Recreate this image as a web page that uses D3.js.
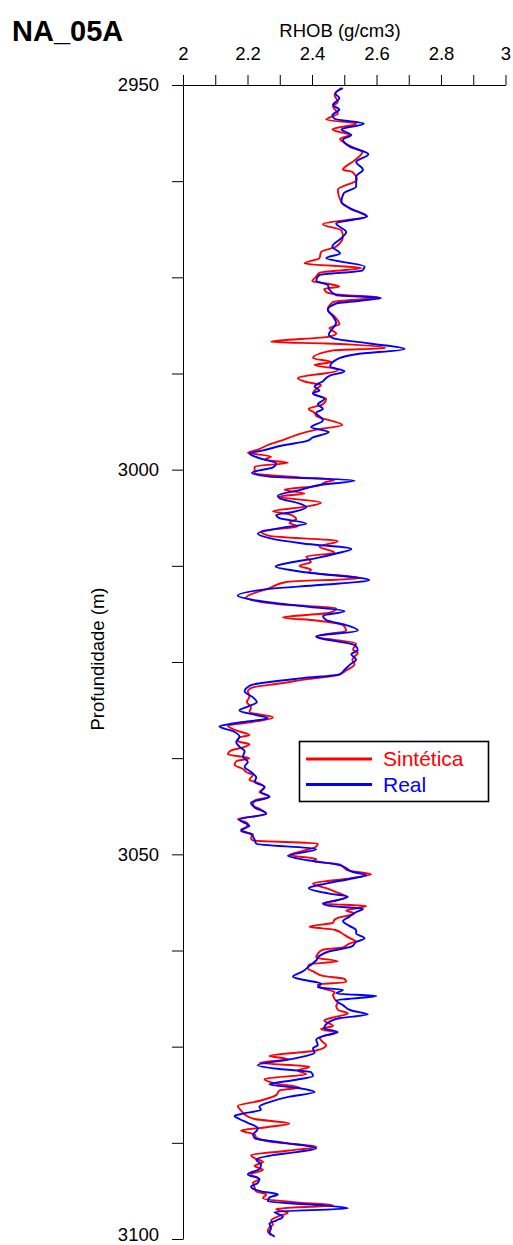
<!DOCTYPE html>
<html>
<head>
<meta charset="utf-8">
<script src="https://cdn.jsdelivr.net/npm/d3@7"></script>
<style>
  body { margin: 0; background: #fff; }
  svg { display: block; font-family: "Liberation Sans", Arial, sans-serif; }
</style>
</head>
<body>
<svg id="chart" width="513" height="1245"></svg>
<script>
// well and axis labels
const wellName = "NA_05A";
const xTitle = "RHOB (g/cm3)";
const yTitle = "Profundidade (m)";
const seriesNames = ["Sintética", "Real"];

const rhobTicks = [2, 2.1, 2.2, 2.3, 2.4, 2.5, 2.6, 2.7, 2.8, 2.9, 3];
const depthTicks = [2950, 2962.5, 2975, 2987.5, 3000, 3012.5, 3025, 3037.5, 3050, 3062.5, 3075, 3087.5, 3100];

// [depth (m), rhob (g/cm3)]
const sintetica = [
  [2950.4, 2.491], [2951.3, 2.470], [2952.2, 2.480], [2952.8, 2.465], [2953.7, 2.480],
  [2954.5, 2.444], [2955.0, 2.537], [2955.8, 2.463], [2956.5, 2.516], [2957.0, 2.487],
  [2958.0, 2.522], [2958.7, 2.556], [2959.8, 2.532], [2961.0, 2.496], [2961.3, 2.525],
  [2962.3, 2.539], [2963.6, 2.480], [2965.2, 2.491], [2966.2, 2.525], [2967.1, 2.568],
  [2968.1, 2.434], [2968.9, 2.491], [2969.7, 2.496], [2971.0, 2.475], [2971.7, 2.428],
  [2972.5, 2.423], [2973.2, 2.377], [2973.8, 2.553], [2974.4, 2.423], [2974.9, 2.413],
  [2975.5, 2.401], [2975.8, 2.444], [2976.2, 2.485], [2976.5, 2.438], [2976.9, 2.444],
  [2977.3, 2.496], [2977.6, 2.609], [2978.2, 2.465], [2979.2, 2.449], [2980.1, 2.470],
  [2981.1, 2.485], [2981.6, 2.454], [2982.3, 2.475], [2982.7, 2.454], [2983.4, 2.273],
  [2983.6, 2.444], [2984.2, 2.628], [2984.5, 2.465], [2985.5, 2.403], [2986.0, 2.460],
  [2986.4, 2.408], [2986.9, 2.475], [2987.1, 2.480], [2988.1, 2.356], [2988.6, 2.382],
  [2989.0, 2.428], [2989.5, 2.413], [2990.1, 2.403], [2990.8, 2.444], [2991.5, 2.434],
  [2992.1, 2.390], [2992.6, 2.408], [2993.0, 2.413], [2994.2, 2.494], [2994.8, 2.413],
  [2995.5, 2.351], [2996.3, 2.299], [2996.7, 2.268], [2997.4, 2.232], [2997.8, 2.201],
  [2998.3, 2.273], [2998.7, 2.253], [2999.1, 2.325], [2999.6, 2.222], [3000.4, 2.222],
  [3001.0, 2.361], [3001.3, 2.470], [3001.6, 2.444], [3002.1, 2.418], [3002.6, 2.315],
  [3003.1, 2.377], [3003.5, 2.299], [3004.3, 2.428], [3004.8, 2.382], [3005.4, 2.279],
  [3005.8, 2.330], [3006.4, 2.351], [3006.9, 2.330], [3007.4, 2.356], [3008.0, 2.242],
  [3008.6, 2.268], [3009.3, 2.480], [3010.0, 2.423], [3010.8, 2.470], [3011.3, 2.382],
  [3012.0, 2.397], [3012.5, 2.361], [3013.0, 2.397], [3013.3, 2.392], [3014.1, 2.547],
  [3014.6, 2.320], [3015.4, 2.268], [3016.6, 2.196], [3017.5, 2.299], [3018.0, 2.475],
  [3018.6, 2.454], [3019.2, 2.310], [3019.6, 2.413], [3020.2, 2.496], [3020.9, 2.506],
  [3021.7, 2.413], [3022.6, 2.537], [3023.4, 2.527], [3023.8, 2.542], [3024.3, 2.532],
  [3024.7, 2.525], [3025.3, 2.532], [3026.1, 2.506], [3026.7, 2.480], [3027.2, 2.392],
  [3027.8, 2.299], [3028.3, 2.217], [3028.8, 2.201], [3029.5, 2.206], [3030.2, 2.198],
  [3030.9, 2.211], [3031.5, 2.206], [3032.2, 2.279], [3032.9, 2.196], [3033.3, 2.139],
  [3033.9, 2.165], [3034.5, 2.206], [3034.8, 2.175], [3035.3, 2.170], [3035.7, 2.206],
  [3036.1, 2.186], [3036.5, 2.149], [3037.0, 2.139], [3037.5, 2.206], [3037.9, 2.165],
  [3038.4, 2.160], [3038.9, 2.186], [3039.3, 2.196], [3039.7, 2.217], [3040.3, 2.206],
  [3040.7, 2.232], [3041.3, 2.253], [3041.9, 2.237], [3042.5, 2.268], [3043.0, 2.222],
  [3043.6, 2.217], [3044.2, 2.242], [3044.8, 2.258], [3045.4, 2.170], [3046.0, 2.201],
  [3046.5, 2.196], [3047.0, 2.180], [3047.4, 2.217], [3047.9, 2.211], [3048.2, 2.217],
  [3048.6, 2.418], [3049.0, 2.413], [3049.5, 2.377], [3050.1, 2.330], [3050.6, 2.413],
  [3050.9, 2.403], [3051.3, 2.485], [3051.6, 2.496], [3052.1, 2.511], [3052.6, 2.583],
  [3053.1, 2.522], [3053.8, 2.403], [3054.4, 2.444], [3054.9, 2.475], [3055.5, 2.506],
  [3056.0, 2.475], [3056.4, 2.434], [3056.7, 2.568], [3057.3, 2.506], [3057.7, 2.532],
  [3058.2, 2.485], [3058.5, 2.470], [3058.9, 2.465], [3059.4, 2.392], [3059.8, 2.470],
  [3060.5, 2.501], [3061.0, 2.522], [3061.3, 2.537], [3061.6, 2.516], [3062.1, 2.496],
  [3062.4, 2.434], [3062.9, 2.418], [3063.4, 2.413], [3063.9, 2.480], [3064.3, 2.392],
  [3064.8, 2.387], [3065.3, 2.408], [3065.8, 2.434], [3066.2, 2.501], [3066.6, 2.506],
  [3066.9, 2.418], [3067.5, 2.438], [3067.9, 2.470], [3068.3, 2.465], [3068.8, 2.470],
  [3069.3, 2.480], [3069.7, 2.475], [3070.2, 2.480], [3070.7, 2.511], [3071.1, 2.475],
  [3071.6, 2.438], [3072.3, 2.465], [3072.7, 2.428], [3073.2, 2.475], [3073.8, 2.423],
  [3074.4, 2.434], [3074.8, 2.444], [3075.5, 2.413], [3076.2, 2.268], [3076.6, 2.325],
  [3077.1, 2.237], [3077.6, 2.392], [3078.1, 2.356], [3078.6, 2.382], [3079.2, 2.253],
  [3079.8, 2.289], [3080.3, 2.361], [3080.7, 2.299], [3081.3, 2.289], [3082.0, 2.242],
  [3082.7, 2.170], [3083.3, 2.180], [3083.8, 2.191], [3084.4, 2.222], [3085.0, 2.330],
  [3085.5, 2.253], [3085.9, 2.180], [3086.4, 2.222], [3086.8, 2.227], [3087.4, 2.279],
  [3088.0, 2.413], [3088.5, 2.330], [3089.1, 2.211], [3089.5, 2.222], [3090.0, 2.248],
  [3090.5, 2.222], [3091.0, 2.248], [3091.6, 2.211], [3092.2, 2.237], [3092.7, 2.217],
  [3093.3, 2.222], [3093.8, 2.227], [3094.2, 2.258], [3094.7, 2.248], [3095.3, 2.372],
  [3095.6, 2.465], [3096.1, 2.289], [3096.6, 2.325], [3097.0, 2.299], [3097.6, 2.273],
  [3098.1, 2.279], [3098.5, 2.268], [3099.0, 2.263], [3099.5, 2.273]
];

const real = [
  [2950.4, 2.496], [2951.1, 2.472], [2951.7, 2.485], [2952.6, 2.465], [2953.2, 2.485],
  [2953.9, 2.463], [2954.4, 2.470], [2955.0, 2.561], [2955.8, 2.491], [2956.5, 2.522],
  [2957.1, 2.496], [2958.0, 2.516], [2959.0, 2.575], [2960.0, 2.537], [2961.0, 2.558],
  [2961.9, 2.537], [2963.2, 2.537], [2964.1, 2.498], [2965.2, 2.491], [2966.0, 2.516],
  [2967.1, 2.571], [2968.0, 2.475], [2969.1, 2.506], [2969.9, 2.491], [2971.0, 2.463],
  [2971.9, 2.487], [2972.5, 2.444], [2973.6, 2.563], [2974.1, 2.556], [2974.7, 2.423],
  [2975.4, 2.413], [2976.0, 2.449], [2976.6, 2.454], [2977.3, 2.475], [2977.7, 2.614],
  [2978.4, 2.475], [2979.2, 2.449], [2980.1, 2.465], [2980.9, 2.475], [2981.6, 2.465],
  [2982.4, 2.452], [2982.9, 2.465], [2983.6, 2.578], [2984.3, 2.687], [2985.0, 2.537],
  [2985.5, 2.485], [2986.6, 2.456], [2987.2, 2.501], [2987.8, 2.454], [2988.5, 2.434],
  [2989.2, 2.408], [2989.7, 2.423], [2990.1, 2.403], [2990.8, 2.438], [2991.5, 2.418],
  [2992.1, 2.434], [2992.6, 2.413], [2993.6, 2.434], [2994.5, 2.397], [2995.1, 2.452],
  [2995.8, 2.403], [2996.3, 2.382], [2996.8, 2.315], [2997.5, 2.248], [2997.9, 2.206],
  [2998.5, 2.237], [2999.2, 2.289], [2999.7, 2.279], [3000.4, 2.214], [3000.9, 2.268],
  [3001.4, 2.532], [3002.0, 2.423], [3002.65, 2.361], [3003.4, 2.294], [3003.7, 2.299],
  [3004.4, 2.361], [3004.9, 2.382], [3005.5, 2.341], [3005.9, 2.289], [3006.3, 2.299],
  [3007.0, 2.382], [3007.6, 2.299], [3008.3, 2.232], [3008.9, 2.268], [3009.6, 2.372],
  [3010.3, 2.522], [3010.9, 2.475], [3011.5, 2.413], [3012.1, 2.330], [3012.6, 2.287],
  [3013.3, 2.372], [3014.35, 2.578], [3015.0, 2.423], [3015.5, 2.268], [3016.4, 2.170],
  [3017.0, 2.227], [3017.8, 2.382], [3018.4, 2.501], [3019.0, 2.434], [3019.55, 2.444],
  [3020.2, 2.506], [3020.9, 2.542], [3021.7, 2.413], [3022.8, 2.532], [3023.45, 2.542],
  [3024.0, 2.522], [3024.7, 2.537], [3025.2, 2.522], [3026.0, 2.501], [3026.6, 2.485],
  [3027.1, 2.372], [3027.6, 2.268], [3028.0, 2.211], [3028.8, 2.191], [3029.6, 2.217],
  [3030.2, 2.229], [3030.8, 2.201], [3031.3, 2.175], [3031.9, 2.227], [3032.3, 2.263],
  [3032.8, 2.186], [3033.4, 2.113], [3034.0, 2.155], [3034.7, 2.175], [3035.4, 2.165],
  [3036.0, 2.175], [3036.6, 2.191], [3037.3, 2.186], [3038.0, 2.201], [3038.6, 2.191],
  [3039.3, 2.211], [3040.0, 2.227], [3040.6, 2.222], [3041.2, 2.253], [3041.9, 2.242],
  [3042.5, 2.268], [3043.3, 2.211], [3043.9, 2.222], [3044.7, 2.258], [3045.5, 2.175],
  [3046.3, 2.206], [3046.8, 2.180], [3047.4, 2.211], [3048.1, 2.222], [3048.6, 2.227],
  [3049.35, 2.413], [3050.2, 2.325], [3050.8, 2.392], [3051.4, 2.485], [3051.8, 2.506],
  [3052.3, 2.527], [3052.7, 2.568], [3053.2, 2.516], [3053.8, 2.444], [3054.4, 2.390],
  [3055.1, 2.454], [3055.5, 2.511], [3056.0, 2.475], [3056.4, 2.434], [3056.7, 2.454],
  [3057.1, 2.558], [3057.5, 2.537], [3058.1, 2.516], [3058.7, 2.496], [3059.3, 2.516],
  [3059.9, 2.537], [3060.3, 2.537], [3060.9, 2.563], [3061.4, 2.537], [3062.0, 2.522],
  [3062.6, 2.454], [3063.2, 2.423], [3063.8, 2.413], [3064.5, 2.392], [3065.2, 2.372],
  [3065.9, 2.341], [3066.3, 2.372], [3066.8, 2.428], [3067.3, 2.418], [3067.6, 2.496],
  [3068.1, 2.475], [3068.4, 2.599], [3069.0, 2.475], [3069.6, 2.496], [3070.3, 2.522],
  [3070.8, 2.573], [3071.3, 2.485], [3071.9, 2.449], [3072.6, 2.438], [3073.1, 2.480],
  [3073.5, 2.444], [3074.1, 2.413], [3074.8, 2.418], [3075.2, 2.403], [3075.8, 2.408],
  [3076.3, 2.372], [3076.7, 2.325], [3077.4, 2.232], [3077.9, 2.299], [3078.3, 2.397],
  [3078.8, 2.403], [3079.3, 2.351], [3079.9, 2.268], [3080.4, 2.361], [3080.9, 2.408],
  [3081.5, 2.330], [3082.2, 2.268], [3082.8, 2.237], [3083.2, 2.242], [3083.7, 2.186],
  [3084.0, 2.160], [3084.4, 2.175], [3084.9, 2.201], [3085.6, 2.232], [3086.0, 2.227],
  [3086.4, 2.217], [3086.9, 2.222], [3087.5, 2.315], [3088.2, 2.413], [3088.7, 2.351],
  [3089.1, 2.279], [3089.7, 2.227], [3090.3, 2.242], [3090.9, 2.237], [3091.6, 2.201],
  [3092.2, 2.237], [3092.7, 2.232], [3093.2, 2.211], [3093.8, 2.242], [3094.2, 2.294],
  [3094.6, 2.268], [3095.1, 2.263], [3095.6, 2.423], [3096.0, 2.511], [3096.5, 2.284],
  [3097.1, 2.310], [3097.6, 2.289], [3098.0, 2.268], [3098.6, 2.273], [3099.1, 2.268],
  [3099.7, 2.284]
];

const colors = ["#ff0000", "#0000ff"];

const mLeft = 183, mTop = 85, w = 322.5, h = 1154;
const svg = d3.select("#chart");
const font = "Liberation Sans, Arial, sans-serif";

const x = d3.scaleLinear().domain([2, 3]).range([0, w]);
const y = d3.scaleLinear().domain([2950, 3100]).range([0, h]);

const g = svg.append("g").attr("transform", `translate(${mLeft},${mTop})`);

// curves (red below, blue on top)
const line = d3.line()
  .x(d => x(d[1]))
  .y(d => y(d[0]))
  .curve(d3.curveMonotoneY);

[sintetica, real].forEach((s, i) => {
  g.append("path")
    .datum(s)
    .attr("fill", "none")
    .attr("stroke", colors[i])
    .attr("stroke-width", 1.9)
    .attr("stroke-linejoin", "round")
    .attr("d", line);
});

// top axis
const xAxis = g.append("g")
  .call(d3.axisTop(x)
    .tickValues(rhobTicks)
    .tickSize(10)
    .tickSizeOuter(0)
    .tickPadding(15)
    .tickFormat((d, i) => i % 2 === 0 ? d3.format("~g")(d) : ""));

// left axis
const yAxis = g.append("g")
  .call(d3.axisLeft(y)
    .tickValues(depthTicks)
    .tickSize(11)
    .tickSizeOuter(0)
    .tickPadding(13)
    .tickFormat(d => d % 50 === 0 ? d : ""));

[xAxis, yAxis].forEach(a => {
  a.attr("font-family", font).attr("font-size", 18.5);
  a.selectAll("text").attr("fill", "#000");
  a.selectAll("line, path").attr("stroke", "#000");
});

// last depth label sits on the page edge, lift it a little
yAxis.selectAll(".tick text")
  .filter(d => d === 3100)
  .attr("dy", "0.1em");

// titles
svg.append("text")
  .attr("x", 12).attr("y", 41)
  .attr("font-size", 29).attr("font-weight", "bold")
  .text(wellName);

svg.append("text")
  .attr("x", 340).attr("y", 37)
  .attr("text-anchor", "middle")
  .attr("font-size", 18.5)
  .text(xTitle);

svg.append("text")
  .attr("transform", "translate(104,659) rotate(-90)")
  .attr("text-anchor", "middle")
  .attr("font-size", 18.5)
  .text(yTitle);

// legend
const lg = svg.append("g");
lg.append("rect")
  .attr("x", 299.5).attr("y", 741.5)
  .attr("width", 189).attr("height", 60)
  .attr("fill", "#fff").attr("stroke", "#000").attr("stroke-width", 1.6);

seriesNames.forEach((n, i) => {
  const yy = 759 + i * 25.5;
  lg.append("line")
    .attr("x1", 306).attr("x2", 372)
    .attr("y1", yy).attr("y2", yy)
    .attr("stroke", colors[i]).attr("stroke-width", 3);
  lg.append("text")
    .attr("x", 383).attr("y", yy + 7)
    .attr("font-size", 21)
    .attr("fill", colors[i])
    .text(n);
});
</script>
</body>
</html>
